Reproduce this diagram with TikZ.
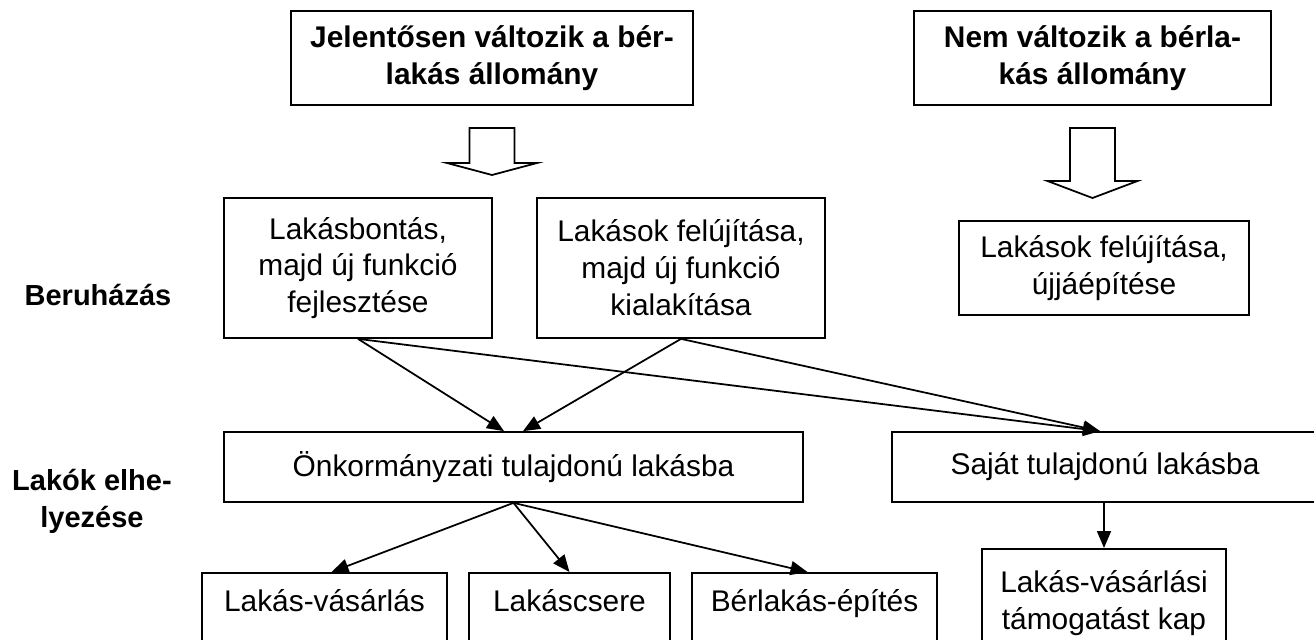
\documentclass[tikz,border=0pt]{standalone}
\usepackage{fontspec}
\setmainfont{Liberation Sans}
\usetikzlibrary{positioning,calc,arrows.meta}

\tikzset{
  box/.style={draw, line width=1pt, inner sep=0pt, align=center},
  headbox/.style={box, font=\fontsize{17pt}{21pt}\selectfont\bfseries},
  sidelabel/.style={align=center, inner sep=0pt, font=\fontsize{16.5pt}{21pt}\selectfont\bfseries},
  openbox/.style={box, anchor=north, text depth=3cm},
  link/.style={-{Triangle[length=0.34cm,width=0.28cm]}, line width=1pt},
}

\begin{document}
\begin{tikzpicture}[x=0.02cm, y=-0.02cm, font=\fontsize{17pt}{21pt}\selectfont]
    \useasboundingbox (0,0) rectangle (1314,639);
    \clip (0,0) rectangle (1314,639);

    % top row
    \node[headbox, minimum width=8.04cm, minimum height=1.88cm] (jelentos) at (492,58) {Jelentősen változik a bér-\\lakás állomány};
    \node[headbox, minimum width=7.14cm, minimum height=1.88cm] (nemvalt) at (1092.5,58) {Nem változik a bérla-\\kás állomány};

    % block arrows
    \foreach \xc/\ys/\yt in {492/163/175, 1092.5/181/198} {
        \draw[line width=1pt] (\xc-22.5,128) -- (\xc+22.5,128) -- (\xc+22.5,\ys) -- (\xc+45,\ys)
            -- (\xc,\yt) -- (\xc-45,\ys) -- (\xc-22.5,\ys) -- cycle;
    }

    % beruhazas
    \node[sidelabel] (beruhazas) at (98,295) {Beruházás};
    \node[box, minimum width=5.36cm, minimum height=2.8cm] (bontas) at (358,268) {Lakásbontás,\\majd új funkció\\fejlesztése};
    \node[box, minimum width=5.76cm, minimum height=2.8cm] (felujit) at (681,268) {Lakások felújítása,\\majd új funkció\\kialakítása};
    \node[box, minimum width=5.8cm, minimum height=1.88cm] (ujjaepit) at (1104,268) {Lakások felújítása,\\újjáépítése};

    % lakok elhelyezese
    \node[sidelabel] (lakok) at (92,501) {Lakók elhe-\\lyezése};
    \node[box, minimum width=11.58cm, minimum height=1.4cm] (onkorm) at (513.5,467) {Önkormányzati tulajdonú lakásba};
    \node[box, minimum width=8.52cm, minimum height=1.4cm] (sajat) at (1105,467) {Saját tulajdonú lakásba};

    % bottom row
    \node[openbox, minimum width=4.9cm, text height=0.78cm] (vasarlas) at (324.5,572) {Lakás-vásárlás};
    \node[openbox, minimum width=4.02cm, text height=0.78cm] (csere) at (569.5,572) {Lakáscsere};
    \node[openbox, minimum width=4.9cm, text height=0.78cm] (berlakas) at (814.5,572) {Bérlakás-építés};
    \node[openbox, minimum width=4.88cm, text height=1.62cm] (tamogat) at (1104,548) {Lakás-vásárlási\\támogatást kap};

    % connectors
    \draw[link] (bontas.south) -- ($(onkorm.north)+(-9.5,0)$);
    \draw[link] (felujit.south) -- ($(onkorm.north)+(9.5,0)$);
    \draw[link] (bontas.south) -- ($(sajat.north)+(-5,0)$);
    \draw[link] (felujit.south) -- ($(sajat.north)+(-5,0)$);
    \draw[link] (onkorm.south) -- ($(vasarlas.north)+(7,0)$);
    \draw[link] (onkorm.south) -- (csere.north);
    \draw[link] (onkorm.south) -- ($(berlakas.north)+(-7,0)$);
    \draw[link] (sajat.south -| tamogat.north) -- (tamogat.north);
\end{tikzpicture}
\end{document}
